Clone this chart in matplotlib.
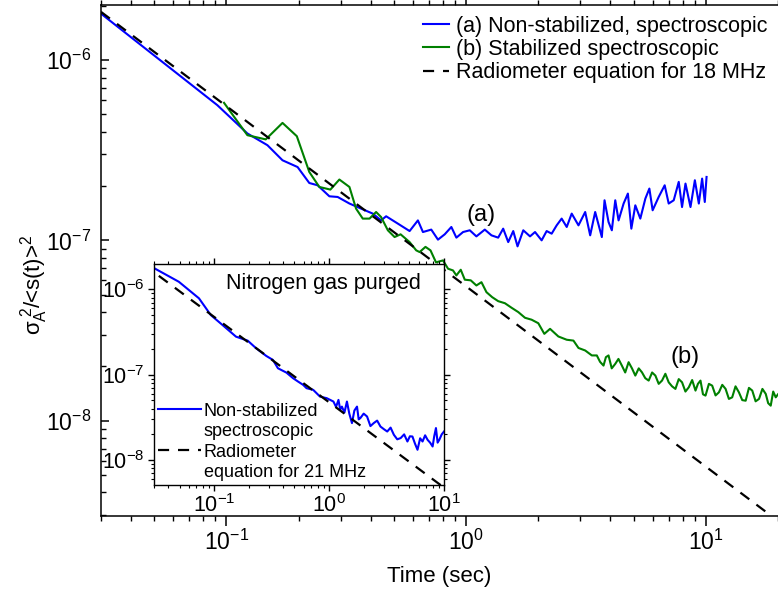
import matplotlib
matplotlib.use('Agg')
import matplotlib.pyplot as plt
from matplotlib.lines import Line2D

plt.rcParams['font.family'] = ['Liberation Sans', 'DejaVu Sans']
plt.rcParams['mathtext.fontset'] = 'custom'
plt.rcParams['mathtext.rm'] = 'Liberation Sans'
plt.rcParams['mathtext.it'] = 'Liberation Sans:italic'

## (a) non-stabilized, spectroscopic
t_a = [0.0293, 0.0917, 0.1224, 0.1484, 0.1715, 0.1982, 0.2218, 0.2403, 0.2690, 0.2913,
       0.3262, 0.3646, 0.4081, 0.4420, 0.4640, 0.5193, 0.5813, 0.6295, 0.6607, 0.7158,
       0.7634, 0.8145, 0.868, 0.911, 0.9714, 1.036, 1.104, 1.197, 1.276, 1.361,
       1.428, 1.499, 1.573, 1.639, 1.732, 1.848, 1.939, 2.066, 2.168, 2.275,
       2.387, 2.504, 2.629, 2.758, 2.943, 3.139, 3.293, 3.455, 3.683, 3.780,
       3.928, 4.055, 4.19, 4.325, 4.54, 4.73, 4.89, 5.08, 5.33, 5.595,
       5.814, 6.0, 6.359, 6.736, 7.0, 7.347, 7.709, 7.958, 8.225, 8.63,
       9.0, 9.35, 9.65, 9.90, 10.07]
s_a = [1.854e-6, 5.62e-7, 3.915e-7, 3.37e-7, 2.78e-7, 2.55e-7, 2.08e-7, 2.02e-7, 1.755e-7, 1.74e-7,
       1.60e-7, 1.50e-7, 1.407e-7, 1.29e-7, 1.36e-7, 1.238e-7, 1.126e-7, 1.29e-7, 1.112e-7, 1.147e-7,
       1.009e-7, 1.08e-7, 1.186e-7, 1.035e-7, 1.112e-7, 1.137e-7, 1.052e-7, 1.147e-7, 1.066e-7, 1.035e-7,
       1.161e-7, 9.78e-8, 1.126e-7, 9.26e-8, 1.137e-7, 1.052e-7, 1.112e-7, 1.0e-7, 1.126e-7, 1.089e-7,
       1.211e-7, 1.32e-7, 1.186e-7, 1.407e-7, 1.211e-7, 1.436e-7, 1.066e-7, 1.436e-7, 1.043e-7, 1.668e-7,
       1.264e-7, 1.137e-7, 1.668e-7, 1.29e-7, 1.60e-7, 1.817e-7, 1.161e-7, 1.564e-7, 1.32e-7, 1.705e-7,
       1.937e-7, 1.468e-7, 1.74e-7, 2.02e-7, 1.60e-7, 1.668e-7, 2.11e-7, 1.53e-7, 2.065e-7, 1.53e-7,
       2.154e-7, 1.60e-7, 2.20e-7, 1.632e-7, 2.247e-7]

## (b) stabilized spectroscopic
t_b = [0.0978, 0.1224, 0.146, 0.1715, 0.1968, 0.2218, 0.2443, 0.2716, 0.2961, 0.3262,
       0.3475, 0.3707, 0.3955, 0.4213, 0.442, 0.4717, 0.5032, 0.5331, 0.5813, 0.6194,
       0.640, 0.677, 0.7105, 0.749, 0.801, 0.841, 0.882, 0.911, 0.950, 0.9876,
       1.046, 1.104, 1.159, 1.216, 1.285, 1.361, 1.452, 1.547, 1.651, 1.761,
       1.876, 2.001, 2.12, 2.24, 2.426, 2.629, 2.804, 2.943, 3.139, 3.346,
       3.51, 3.62, 3.743, 3.83, 3.928, 4.05, 4.19, 4.32, 4.465, 4.61,
       4.763, 4.92, 5.08, 5.25, 5.415, 5.59, 5.776, 5.97, 6.16, 6.36,
       6.565, 6.78, 7.0, 7.23, 7.467, 7.71, 7.958, 8.22, 8.49, 8.77,
       9.055, 9.27, 9.50, 9.73, 9.97, 10.3, 10.63, 10.98, 11.34, 11.71,
       12.09, 12.48, 12.88, 13.3, 13.74, 14.19, 14.66, 15.13, 15.62, 16.13,
       16.67, 17.22, 17.78, 18.2, 18.65, 19.1, 19.57, 20.0]
s_b = [5.79e-7, 3.83e-7, 3.63e-7, 4.48e-7, 3.78e-7, 2.395e-7, 1.977e-7, 1.912e-7, 2.174e-7, 1.977e-7,
       1.50e-7, 1.32e-7, 1.32e-7, 1.436e-7, 1.347e-7, 1.137e-7, 1.043e-7, 1.08e-7, 9.78e-8, 8.80e-8,
       8.61e-8, 9.20e-8, 8.80e-8, 7.55e-8, 7.74e-8, 6.96e-8, 6.81e-8, 6.39e-8, 6.87e-8, 6.05e-8,
       6.0e-8, 5.62e-8, 5.86e-8, 5.16e-8, 4.84e-8, 4.60e-8, 4.48e-8, 4.23e-8, 4.0e-8, 3.72e-8,
       3.63e-8, 3.47e-8, 3.03e-8, 3.23e-8, 2.93e-8, 2.81e-8, 2.78e-8, 2.53e-8, 2.45e-8, 2.30e-8,
       2.30e-8, 2.12e-8, 2.02e-8, 2.25e-8, 2.30e-8, 1.95e-8, 2.065e-8, 2.2e-8, 2.02e-8, 1.85e-8,
       2.11e-8, 1.95e-8, 1.778e-8, 1.95e-8, 1.854e-8, 1.72e-8, 1.668e-8, 1.85e-8, 1.778e-8, 1.6e-8,
       1.668e-8, 1.82e-8, 1.632e-8, 1.55e-8, 1.50e-8, 1.7e-8, 1.632e-8, 1.45e-8, 1.531e-8, 1.68e-8,
       1.468e-8, 1.6e-8, 1.668e-8, 1.4e-8, 1.377e-8, 1.6e-8, 1.564e-8, 1.38e-8, 1.436e-8, 1.58e-8,
       1.50e-8, 1.32e-8, 1.347e-8, 1.55e-8, 1.436e-8, 1.3e-8, 1.29e-8, 1.52e-8, 1.468e-8, 1.28e-8,
       1.32e-8, 1.5e-8, 1.407e-8, 1.25e-8, 1.211e-8, 1.45e-8, 1.347e-8, 1.4e-8]

## radiometer equation, 18 MHz (main) and 21 MHz (inset)
t_rad18 = [0.03, 20.0]
s_rad18 = [1.85e-6, 2.78e-9]
t_rad21 = [0.033, 10.0]
s_rad21 = [1.44e-6, 4.76e-9]

## inset: nitrogen gas purged, non-stabilized
t_n2 = [0.0292, 0.0493, 0.0738, 0.0935, 0.1183, 0.155, 0.196, 0.232, 0.284, 0.3246,
        0.359, 0.4256, 0.486, 0.538, 0.595, 0.637, 0.728, 0.834, 0.954,
        1.091, 1.15, 1.207, 1.25, 1.293, 1.36, 1.43, 1.5, 1.582, 1.66,
        1.75, 1.81, 1.87, 2.0, 2.14, 2.29, 2.446, 2.62, 2.80, 3.0,
        3.207, 3.43, 3.664, 3.92, 4.196, 4.5, 4.804, 5.05, 5.313, 5.6,
        5.88, 6.2, 6.505, 6.85, 7.194, 7.57, 7.96, 8.22, 8.51, 8.8,
        9.10, 9.55, 10.0]
s_n2 = [1.81e-6, 1.227e-6, 7.85e-7, 5.0e-7, 3.82e-7, 2.79e-7, 2.505e-7, 2.04e-7, 1.66e-7, 1.49e-7,
        1.19e-7, 1.058e-7, 9.1e-8, 8.3e-8, 7.6e-8, 6.95e-8, 6.64e-8, 5.54e-8, 5.31e-8,
        4.85e-8, 4.2e-8, 5.07e-8, 3.9e-8, 4.23e-8, 3.6e-8, 4.85e-8, 3.5e-8, 2.71e-8, 3.8e-8,
        4.23e-8, 3.0e-8, 3.10e-8, 3.5e-8, 3.24e-8, 2.5e-8, 2.71e-8, 2.9e-8, 2.47e-8, 2.3e-8,
        2.16e-8, 2.4e-8, 1.976e-8, 1.75e-8, 1.81e-8, 2.0e-8, 1.65e-8, 1.9e-8, 1.888e-8, 1.55e-8,
        1.32e-8, 1.8e-8, 1.65e-8, 1.95e-8, 1.727e-8, 1.6e-8, 1.442e-8, 1.9e-8, 2.37e-8, 1.6e-8,
        1.727e-8, 2.0e-8, 2.16e-8]

blue = '#0000ff'
green = '#008000'
dash = (0, (5, 4))

fig = plt.figure(figsize=(7.78, 5.92), dpi=100)
ax = fig.add_axes([0.1298, 0.1284, 0.8702, 0.8632])

ax.plot(t_a, s_a, color=blue, lw=1.5, label='(a) Non-stabilized, spectroscopic')
ax.plot(t_b, s_b, color=green, lw=1.5, label='(b) Stabilized spectroscopic')
ax.plot(t_rad18, s_rad18, color='k', lw=1.6, ls=dash, label='Radiometer equation for 18 MHz')

ax.set_xscale('log')
ax.set_yscale('log')
ax.set_xlim(0.03, 20)
ax.set_ylim(2.96e-9, 2.02e-6)
ax.spines['right'].set_visible(False)
for sp in ['left', 'top', 'bottom']:
    ax.spines[sp].set_linewidth(1.1)
ax.tick_params(axis='x', which='both', direction='out', top=True, labelsize=16.5, pad=3)
ax.tick_params(axis='x', which='major', length=7, width=1.1)
ax.tick_params(axis='x', which='minor', length=3.5, width=1.0)
ax.tick_params(axis='y', which='both', direction='in', right=False, labelsize=16.5, pad=7)
ax.tick_params(axis='y', which='major', length=6, width=1.1)
ax.tick_params(axis='y', which='minor', length=3.5, width=1.0)

ax.set_xlabel('Time (sec)', fontsize=16)
ax.xaxis.set_label_coords(0.5, -0.098)
ax.set_ylabel(r'σ$_{\rm A}^{\ 2}$/<s(t)>$^2$', fontsize=16)
ax.yaxis.set_label_coords(-0.075, 0.452)

ax.text(1.155, 1.38e-7, '(a)', fontsize=17, ha='center', va='center')
ax.text(8.2, 2.25e-8, '(b)', fontsize=17, ha='center', va='center')

ax.legend(loc='upper right', bbox_to_anchor=(1.0, 1.0), frameon=False, fontsize=15.5,
          handlelength=1.2, handletextpad=0.3, labelspacing=0.1, borderaxespad=0.1)

## inset
ins = fig.add_axes([0.198, 0.1807, 0.3727, 0.3733])
ins.set_facecolor('white')
ins.plot(t_n2, s_n2, color=blue, lw=1.5)
ins.plot(t_rad21, s_rad21, color='k', lw=1.6, ls=dash)
ins.set_xscale('log')
ins.set_yscale('log')
ins.set_xlim(0.03, 10)
ins.set_ylim(5.1e-9, 1.98e-6)
for sp in ins.spines.values():
    sp.set_linewidth(1.0)
ins.tick_params(which='both', direction='out', top=True, right=True, labelsize=15.5, pad=2)
ins.tick_params(which='major', length=4.5, width=1.0)
ins.tick_params(which='minor', length=2.5, width=0.8)

ins.text(0.583, 0.914, 'Nitrogen gas purged', transform=ins.transAxes,
         fontsize=15.5, ha='center', va='center')

handles = [Line2D([], [], color=blue, lw=1.5),
           Line2D([], [], color='none'),
           Line2D([], [], color='k', lw=1.6, ls=dash),
           Line2D([], [], color='none')]
labels = ['Non-stabilized', 'spectroscopic', 'Radiometer', 'equation for 21 MHz']
ins.legend(handles, labels, loc='lower left', frameon=False, fontsize=13,
           handlelength=2.4, handletextpad=0.15, labelspacing=0.2,
           borderaxespad=0.1, borderpad=0.1)

fig.savefig('out.png', dpi=100)
